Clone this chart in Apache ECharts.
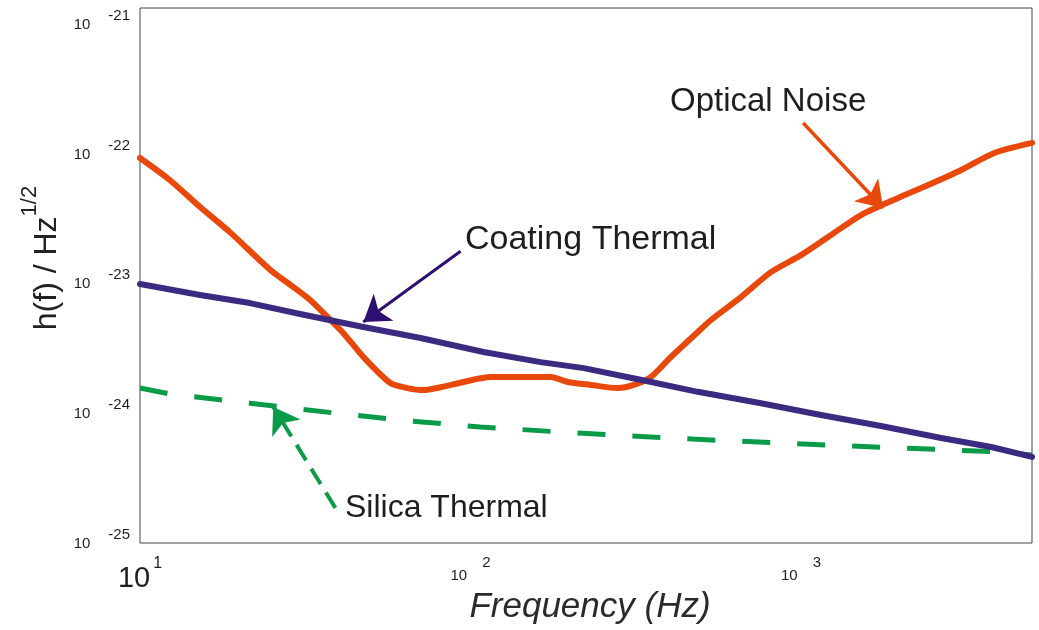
<!DOCTYPE html>
<html><head><meta charset="utf-8">
<script src="https://cdn.jsdelivr.net/npm/echarts@6/dist/echarts.min.js"></script>
<style>html,body{margin:0;padding:0;background:#fff}#c{width:1039px;height:630px}</style>
</head><body><div id="c"></div>
<script>
// ---- data ----
const opticalFreq = [10, 12.3, 15.2, 18.7, 24.8, 29.1, 32.7, 36.9, 41.2, 47.4, 57.2, 64.4, 72.0, 81.1, 95.2, 115, 175, 197, 231, 279, 312, 351, 404, 487, 534, 658, 811, 1000, 1233, 1520, 1968, 2426, 3053, 3845, 5000];
const opticalNoise = [7.56e-23, 5.18e-23, 3.25e-23, 2.11e-23, 1.10e-23, 8.2e-24, 6.56e-24, 4.9e-24, 3.72e-24, 2.46e-24, 1.57e-24, 1.44e-24, 1.39e-24, 1.46e-24, 1.60e-24, 1.74e-24, 1.74e-24, 1.60e-24, 1.52e-24, 1.44e-24, 1.52e-24, 1.74e-24, 2.46e-24, 3.78e-24, 4.65e-24, 6.9e-24, 1.06e-23, 1.42e-23, 2.01e-23, 2.83e-23, 3.8e-23, 4.75e-23, 6.15e-23, 8.24e-23, 9.8e-23];
const coatingFreq = [10, 15.2, 21.5, 30.5, 47.4, 70.6, 109.5, 163, 220, 327, 487, 757, 1149, 1746, 2655, 3765, 5000];
const coatingThermal = [8.63e-24, 7.14e-24, 6.22e-24, 5.15e-24, 4.12e-24, 3.41e-24, 2.68e-24, 2.25e-24, 2.03e-24, 1.66e-24, 1.35e-24, 1.11e-24, 9.06e-25, 7.5e-25, 6.1e-25, 5.22e-25, 4.4e-25];
const silicaFreq = [10, 12.3, 21.5, 38.4, 61.4, 107, 187, 351, 614, 1418, 4037, 5000];
const silicaThermal = [1.44e-24, 1.30e-24, 1.11e-24, 9.4e-25, 8.3e-25, 7.37e-25, 6.76e-25, 6.2e-25, 5.8e-25, 5.31e-25, 4.79e-25, 4.55e-25];
// y tick exponents (labels 10^e)
const yExponents = [-25, -24, -23, -22, -21];
// annotation arrows: [from, to (tip)] in data units
const opticalArrow = [[1015, 1.38e-22], [1773, 3.2e-23]];
const coatingArrow = [[93.3, 1.52e-23], [47.4, 4.49e-24]];
const silicaArrow = [[39.0, 1.83e-25], [25.3, 1.04e-24]];
const labels = { optical: 'Optical Noise', coating: 'Coating Thermal', silica: 'Silica Thermal' };
const xTitle = 'Frequency (Hz)';
const yTitle = 'h(f) / Hz';
const yTitleSup = '1/2';

const FONT = 'Arial, "Liberation Sans", Helvetica, sans-serif';
const zip = (a, b) => a.map((v, i) => [v, b[i]]);
function expOf(v) {
  if (!(v > 0)) return null;
  const e = Math.log10(v), r = Math.round(e);
  return Math.abs(e - r) < 1e-6 ? r : null;
}
const ORANGE = '#E8490B', PURPLE = '#3B2A80', PURPLE_ARROW = '#2E0E6E', GREEN = '#0A9B48', TXT = '#1e1e1e';
const yMinExp = yExponents[0], yMaxExp = yExponents[yExponents.length - 1];

function arrowML(pts, color, width, type) {
  return {
    silent: true, symbol: ['none', 'arrow'], symbolSize: 25, animation: false,
    label: { show: false }, emphasis: { disabled: true },
    lineStyle: { color: color, width: width, type: type, opacity: 1 },
    data: [[{ coord: pts[0] }, { coord: pts[1] }]]
  };
}

const chart = echarts.init(document.getElementById('c'), null, { renderer: 'canvas' });
chart.setOption({
  animation: false,
  backgroundColor: '#ffffff',
  grid: [
    { left: 140, right: 7, top: 8, bottom: 87, show: true, borderColor: '#444', borderWidth: 1, backgroundColor: '#fff', outerBoundsMode: 'none' },
    { left: 140, right: 7, top: 20.5, bottom: 91, show: false, outerBoundsMode: 'none' }
  ],
  xAxis: [
    {
      type: 'log', logBase: 10, min: 10, max: 5000, gridIndex: 0,
      axisLine: { show: false }, axisTick: { show: false }, splitLine: { show: false }, minorTick: { show: false },
      axisLabel: {
        margin: 12.5, color: TXT, fontFamily: FONT, showMinLabel: true,
        formatter: v => { const e = expOf(v); if (e === null) return ''; return e === 1 ? '{bb|10}{bs|' + e + '}' : '{sb|10}{ss|' + e + '}'; },
        rich: {
          bb: { fontSize: 29, lineHeight: 38, verticalAlign: 'bottom', fontFamily: FONT, color: TXT, padding: [0, 3, 0, 0] },
          bs: { fontSize: 16, verticalAlign: 'top', fontFamily: FONT, color: TXT },
          sb: { fontSize: 15, lineHeight: 28, verticalAlign: 'bottom', fontFamily: FONT, color: TXT, padding: [0, 15, 0, 0] },
          ss: { fontSize: 15, verticalAlign: 'top', fontFamily: FONT, color: TXT }
        }
      },
      name: xTitle, nameLocation: 'middle', nameGap: 47, nameMoveOverlap: false,
      nameTextStyle: { fontFamily: FONT, fontSize: 35, fontStyle: 'italic', color: '#2a2a2a', padding: [0, 0, 0, 8] }
    },
    { type: 'value', min: 0, max: 1, gridIndex: 1, show: false }
  ],
  yAxis: [
    {
      type: 'log', logBase: 10, min: 1e-25, max: 1e-21, gridIndex: 0,
      axisLine: { show: false }, axisTick: { show: false }, axisLabel: { show: false }, splitLine: { show: false }
    },
    {
      type: 'value', min: yMinExp, max: yMaxExp, interval: 1, gridIndex: 1,
      axisLine: { show: false }, axisTick: { show: false }, splitLine: { show: false },
      axisLabel: {
        margin: 10, color: TXT, fontFamily: FONT, showMinLabel: true, showMaxLabel: true,
        formatter: v => '{yb|10}{ye|' + Math.round(v) + '}',
        rich: {
          yb: { fontSize: 15, lineHeight: 24, verticalAlign: 'bottom', fontFamily: FONT, color: TXT, padding: [0, 18, 0, 0] },
          ye: { fontSize: 15, verticalAlign: 'top', fontFamily: FONT, color: TXT }
        }
      }
    }
  ],
  series: [
    {
      type: 'line', name: labels.silica, xAxisIndex: 0, yAxisIndex: 0, z: 2,
      data: zip(silicaFreq, silicaThermal), symbol: 'none', showSymbol: false, silent: true,
      lineStyle: { color: GREEN, width: 5, type: [28, 27], cap: 'butt', join: 'round' },
      markLine: arrowML(silicaArrow, GREEN, 4, [18, 10])
    },
    {
      type: 'line', name: labels.optical, xAxisIndex: 0, yAxisIndex: 0, z: 3, smooth: 0.25,
      data: zip(opticalFreq, opticalNoise), symbol: 'none', showSymbol: false, silent: true,
      lineStyle: { color: ORANGE, width: 6, cap: 'round', join: 'round' },
      markLine: arrowML(opticalArrow, ORANGE, 3.5, 'solid')
    },
    {
      type: 'line', name: labels.coating, xAxisIndex: 0, yAxisIndex: 0, z: 4,
      data: zip(coatingFreq, coatingThermal), symbol: 'none', showSymbol: false, silent: true,
      lineStyle: { color: PURPLE, width: 6, cap: 'round', join: 'round' },
      markLine: arrowML(coatingArrow, PURPLE_ARROW, 3, 'solid')
    }
  ],
  graphic: [
    {
      type: 'text', x: 41, y: 258, rotation: Math.PI / 2, silent: true,
      style: {
        text: '{a|' + yTitle + '}{b|' + yTitleSup + '}', align: 'center', verticalAlign: 'middle', fill: '#222',
        rich: {
          a: { fontSize: 32, lineHeight: 44, verticalAlign: 'bottom', fontFamily: FONT, fill: '#222' },
          b: { fontSize: 22, verticalAlign: 'top', fontFamily: FONT, fill: '#222' }
        }
      }
    },
    { type: 'text', x: 670, y: 102, silent: true, style: { text: labels.optical, fontSize: 33, fontFamily: FONT, fill: TXT, align: 'left', verticalAlign: 'middle' } },
    { type: 'text', x: 465, y: 240, silent: true, style: { text: labels.coating, fontSize: 34, fontFamily: FONT, fill: TXT, align: 'left', verticalAlign: 'middle' } },
    { type: 'text', x: 345, y: 508, silent: true, style: { text: labels.silica, fontSize: 32, fontFamily: FONT, fill: TXT, align: 'left', verticalAlign: 'middle' } }
  ]
});
</script>
</body></html>
